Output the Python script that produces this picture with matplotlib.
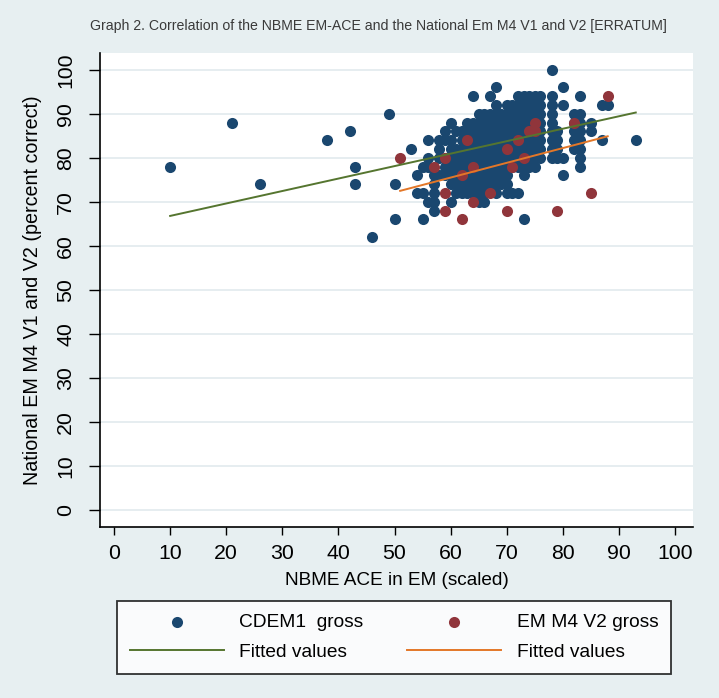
import matplotlib
matplotlib.use("Agg")
import matplotlib.pyplot as plt
import numpy as np

plt.rcParams['font.family'] = ['Liberation Sans', 'DejaVu Sans']

title = "Graph 2. Correlation of the NBME EM-ACE and the National Em M4 V1 and V2 [ERRATUM]"
x_label = "NBME ACE in EM (scaled)"
y_label = "National EM M4 V1 and V2 (percent correct)"
x_ticks = [0, 10, 20, 30, 40, 50, 60, 70, 80, 90, 100]
y_ticks = [0, 10, 20, 30, 40, 50, 60, 70, 80, 90, 100]
series_names = ["CDEM1  gross", "EM M4 V2 gross", "Fitted values", "Fitted values"]

# CDEM1 gross: rows of identical y (percent correct) with their x values
cdem_rows = {
    100: [78],
    96: [68, 80],
    94: [64, 67, 72, 73, 74, 75, 76, 78, 83],
    92: [68, 70, 71, 72, 73, 74, 75, 76, 78, 80, 87, 88],
    90: [49, 65, 66, 67, 68, 69, 70, 71, 72, 73, 74, 75, 76, 78, 82, 83],
    88: [21, 60, 63, 64, 65, 66, 67, 68, 69, 70, 71, 72, 73, 74, 75, 76, 78, 82, 83, 85],
    86: [42, 59, 61, 62, 63, 64, 65, 66, 67, 68, 69, 70, 71, 72, 73, 74, 75, 76, 78, 79, 82, 83, 85],
    84: [38, 56, 58, 59, 60, 62, 63, 64, 65, 66, 67, 68, 69, 70, 71, 72, 73, 74, 75, 76, 78, 79, 82, 83, 87, 93],
    82: [53, 58, 60, 61, 62, 63, 64, 65, 66, 67, 68, 69, 70, 71, 72, 73, 74, 75, 76, 78, 79, 82, 83],
    80: [56, 58, 59, 60, 61, 62, 63, 64, 65, 66, 67, 68, 69, 70, 71, 72, 73, 74, 75, 76, 78, 79, 80, 83],
    78: [10, 43, 55, 56, 59, 60, 61, 62, 63, 64, 65, 66, 67, 68, 69, 70, 71, 72, 73, 74, 75, 83],
    76: [54, 57, 58, 59, 60, 61, 62, 63, 64, 65, 66, 67, 68, 69, 70, 73, 80],
    74: [26, 43, 50, 57, 60, 61, 62, 63, 64, 65, 66, 67, 68, 69, 70],
    72: [54, 55, 57, 61, 62, 63, 64, 65, 66, 68, 70, 71, 72],
    70: [56, 57, 60, 65, 66],
    68: [57],
    66: [50, 55, 73],
    62: [46],
}
cdem_x = [x for y, xs in cdem_rows.items() for x in xs]
cdem_y = [y for y, xs in cdem_rows.items() for x in xs]

# EM M4 V2 gross
v2_x = [51, 57, 59, 59, 59, 62, 62, 63, 64, 64, 67, 70, 70, 71, 72, 73, 74, 75, 75, 79, 82, 85, 88]
v2_y = [80, 78, 80, 72, 68, 76, 66, 84, 78, 70, 72, 82, 68, 78, 84, 80, 86, 88, 86, 68, 88, 72, 94]

# Fitted values (linear fits, end points)
fit_cdem_x = [10, 93]
fit_cdem_y = [66.8, 90.3]
fit_v2_x = [51, 88]
fit_v2_y = [72.5, 84.9]

c_blue = "#1A476F"
c_red = "#90353B"
c_green = "#55752F"
c_orange = "#E37728"
bg = "#E7EFF1"

fig = plt.figure(figsize=(7.19, 6.98), dpi=100, facecolor=bg)
ax = fig.add_axes([0.1391, 0.245, 0.8247, 0.6795])
ax.set_facecolor("white")

ax.set_xlim(-2.5, 103.2)
ax.set_ylim(-3.9, 103.9)
for yt in y_ticks:
    ax.axhline(yt, color="#E6EDF0", lw=1.4, zorder=0)

ax.scatter(cdem_x, cdem_y, s=64, color=c_blue, linewidths=0, zorder=2, label=series_names[0])
ax.scatter(v2_x, v2_y, s=64, color=c_red, linewidths=0, zorder=3, label=series_names[1])

l1, = ax.plot(fit_cdem_x, fit_cdem_y, color=c_green, lw=1.4, zorder=4, label=series_names[2])
l2, = ax.plot(fit_v2_x, fit_v2_y, color=c_orange, lw=1.4, zorder=5, label=series_names[3])

for s in ["top", "right"]:
    ax.spines[s].set_visible(False)
for s in ["left", "bottom"]:
    ax.spines[s].set_color("black")
    ax.spines[s].set_linewidth(1.2)

ax.set_xticks(x_ticks)
ax.set_yticks(y_ticks)
ax.tick_params(axis="x", length=6, width=1.0, labelsize=15.3, pad=6)
ax.tick_params(axis="y", length=8, width=1.0, labelsize=15.3, pad=10)
for lab in ax.get_yticklabels():
    lab.set_rotation(90)
    lab.set_va("center")

ax.set_xlabel(x_label, fontsize=13.7, labelpad=7)
ax.set_ylabel(y_label, fontsize=14.2, labelpad=10)

fig.text(0.526, 0.963, title, ha="center", va="center", fontsize=10.2, color="#3A3A3A")

handles = [ax.collections[0], l1, ax.collections[1], l2]
labels = [series_names[0], series_names[2], series_names[1], series_names[3]]
leg = fig.legend(handles, labels, ncol=2, loc="center", bbox_to_anchor=(0.548, 0.0867),
                 frameon=True, fancybox=False, edgecolor="black", facecolor="white",
                 fontsize=13.8, handlelength=4.9, handletextpad=0.8, columnspacing=2.3,
                 borderpad=0.65, labelspacing=0.65, scatterpoints=1)
leg.get_frame().set_linewidth(1.3)

fig.savefig("out.png", dpi=100, facecolor=bg)
